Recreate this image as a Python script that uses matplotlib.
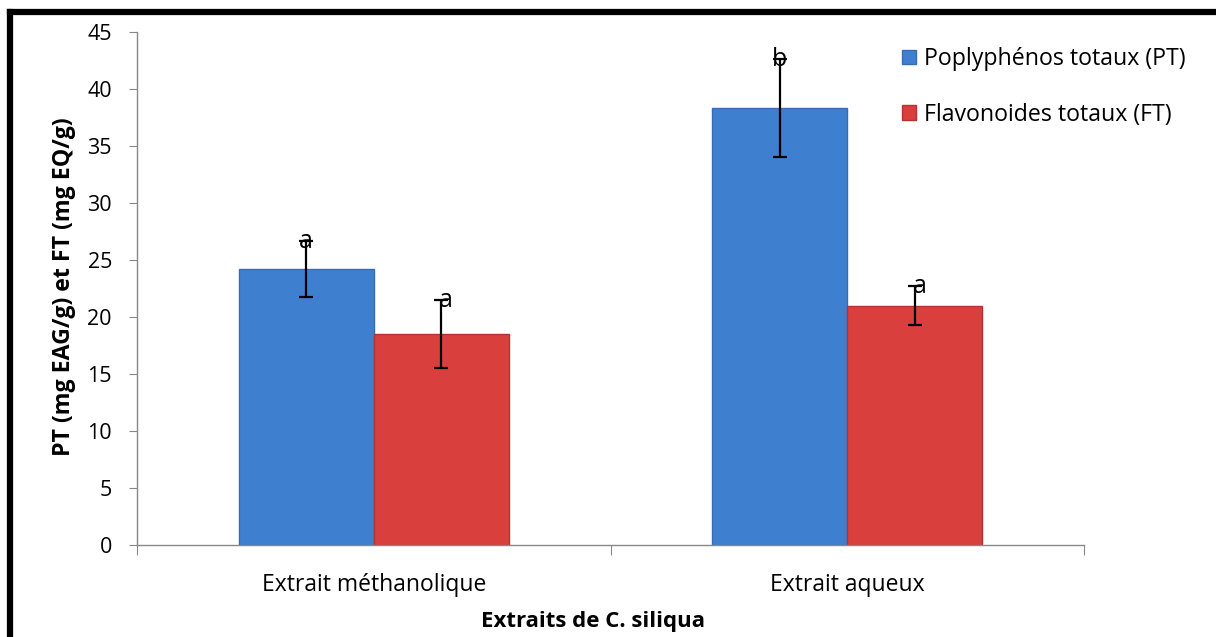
import matplotlib
matplotlib.use("Agg")
import matplotlib.pyplot as plt
from matplotlib.lines import Line2D
import numpy as np

plt.rcParams['font.family'] = ['Open Sans', 'DejaVu Sans']

categories = ["Extrait méthanolique", "Extrait aqueux"]
series_names = ["Poplyphénos totaux (PT)", "Flavonoides totaux (FT)"]
pt_values = [24.2, 38.3]
ft_values = [18.5, 21.0]
pt_err = [2.45, 4.3]
ft_err = [2.95, 1.7]
pt_letters = ["a", "b"]
ft_letters = ["a", "a"]
yticks = list(range(0, 50, 5))

fig = plt.figure(figsize=(12.16, 6.37), dpi=100)
ax = fig.add_axes([137/1216, 1-545/637, (1084-137)/1216, (545-32)/637])

x = np.arange(len(categories)) + 0.5
w = 0.285
blue = '#3F7FCF'
red = '#D9403D'
b1 = ax.bar(x - w/2, pt_values, w, color=blue, edgecolor='#3A6CB0', linewidth=1.0,
            label=series_names[0], zorder=2)
b2 = ax.bar(x + w/2, ft_values, w, color=red, edgecolor='#B23330', linewidth=1.0,
            label=series_names[1], zorder=2)
ax.errorbar(x - w/2, pt_values, yerr=pt_err, fmt='none', ecolor='black',
            elinewidth=1.6, capsize=5, capthick=1.6, zorder=3)
ax.errorbar(x + w/2, ft_values, yerr=ft_err, fmt='none', ecolor='black',
            elinewidth=1.6, capsize=5, capthick=1.6, zorder=3)
for xi, v, e, t in zip(x - w/2, pt_values, pt_err, pt_letters):
    ax.text(xi, v + e, t, ha='center', va='center', fontsize=18, zorder=4)
for xi, v, e, t in zip(x + w/2, ft_values, ft_err, ft_letters):
    ax.text(xi + 0.01, v + e, t, ha='center', va='center', fontsize=18, zorder=4)

ax.set_xlim(0, 2)
ax.set_ylim(0, 45)
ax.set_yticks(yticks)
ax.set_xticks([0, 1, 2])
ax.set_xticklabels([])
ax.set_xticks(x, minor=True)
ax.set_xticklabels(categories, minor=True, fontsize=16.5)
ax.tick_params(axis='x', which='minor', length=0, pad=20)
ax.tick_params(axis='x', which='major', length=7, color='#888888', direction='out')
ax.tick_params(axis='y', length=6, color='#888888', labelsize=15.5, pad=12)
for s in ['top', 'right']:
    ax.spines[s].set_visible(False)
for s in ['left', 'bottom']:
    ax.spines[s].set_color('#888888')
    ax.spines[s].set_linewidth(1.0)

ax.set_xlabel("Extraits de C. siliqua", fontsize=16, fontweight='bold')
ax.xaxis.label.set_va('center')
ax.xaxis.set_label_coords((593-137)/947, (545-621)/513)
ax.set_ylabel("PT (mg EAG/g) et FT (mg EQ/g)", fontsize=16.7, fontweight='bold')
ax.yaxis.label.set_va('center')
ax.yaxis.set_label_coords((64-137)/947, (545-287)/513)

leg = fig.legend(handles=[b1, b2], labels=series_names, loc='upper left',
                 bbox_to_anchor=(893/1216, 1-38/637), frameon=False, fontsize=16.7,
                 handlelength=0.6, handleheight=0.6, handletextpad=0.35,
                 labelspacing=1.36, borderaxespad=0)

fig.add_artist(Line2D([10/1216, 10/1216], [0, 1-12/637], color='black', linewidth=4.5,
                      transform=fig.transFigure, solid_capstyle='projecting'))
fig.add_artist(Line2D([10/1216, 1.0], [1-12/637, 1-12/637], color='black', linewidth=4.5,
                      transform=fig.transFigure, solid_capstyle='projecting'))

fig.savefig("out.png", dpi=100)
